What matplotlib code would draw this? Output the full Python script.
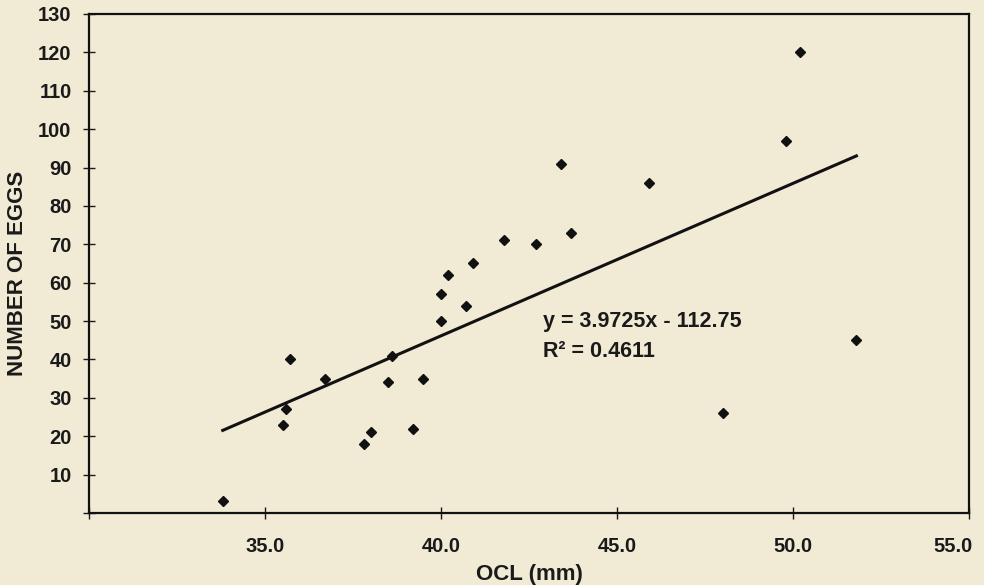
import matplotlib
matplotlib.use("Agg")
import matplotlib.pyplot as plt
import matplotlib.transforms as mtransforms
import numpy as np

# Data
ocl_mm = [33.8, 35.5, 35.6, 35.7, 36.7, 37.8, 38.0, 38.5, 38.6, 39.2, 39.5,
          40.0, 40.0, 40.7, 40.2, 40.9, 41.8, 42.7, 43.7, 43.4, 45.9,
          50.2, 49.8, 48.0, 51.8]
num_eggs = [3, 23, 27, 40, 35, 18, 21, 34, 41, 22, 35,
            50, 57, 54, 62, 65, 71, 70, 73, 91, 86,
            120, 97, 26, 45]
slope = 3.9725
intercept = -112.75
r2 = 0.4611

x_ticks = [30, 35, 40, 45, 50, 55]
x_labels = ["", "35.0", "40.0", "45.0", "50.0", "55.0"]
y_ticks = list(range(0, 131, 10))
y_labels = [""] + [str(v) for v in range(10, 131, 10)]

bg = "#F1EBD5"
ink = '#1a1a1a'
plt.rcParams['font.family'] = ['Liberation Sans', 'DejaVu Sans']
plt.rcParams['font.weight'] = 'bold'

fig = plt.figure(figsize=(9.84, 5.85), dpi=100, facecolor=bg)
ax = fig.add_axes([0.0904, 0.1231, 0.8944, 0.8530])
ax.set_facecolor(bg)

ax.plot(ocl_mm, num_eggs, linestyle='none', marker='D', markersize=5.2,
        color='#111111', zorder=3)

xs = np.array([min(ocl_mm), max(ocl_mm)])
ax.plot(xs, slope * xs + intercept, color='#111111', linewidth=2.2, zorder=2)

ax.text(42.9, 48.5, "y = 3.9725x - 112.75", fontsize=15.5, fontweight='bold',
        ha='left', va='baseline', color=ink)
ax.text(42.9, 40.6, "R\u00b2 = 0.4611", fontsize=15.5, fontweight='bold',
        ha='left', va='baseline', color=ink)

ax.set_xlim(30, 55)
ax.set_ylim(0, 130)
ax.set_xticks(x_ticks)
ax.set_xticklabels(x_labels)
ax.set_yticks(y_ticks)
ax.set_yticklabels(y_labels)

ax.tick_params(axis='x', direction='inout', length=9, width=1, pad=13,
               labelsize=14.5, colors=ink)
ax.tick_params(axis='y', direction='inout', length=9, width=1, pad=8,
               labelsize=14.5, colors=ink)
for lbl in ax.get_xticklabels() + ax.get_yticklabels():
    lbl.set_fontweight('bold')

# last x label sits flush against the right edge in the reference
last = ax.get_xticklabels()[-1]
last.set_ha('right')
last.set_transform(last.get_transform() +
                   mtransforms.ScaledTranslation(4 / 100, 0, fig.dpi_scale_trans))

for s in ax.spines.values():
    s.set_linewidth(1.6)
    s.set_color('#111111')

ax.set_xlabel("OCL (mm)", fontsize=16, fontweight='bold', color=ink)
ax.set_ylabel("NUMBER OF EGGS", fontsize=16, fontweight='bold', color=ink)
ax.xaxis.label.set_va('baseline')
ax.xaxis.set_label_coords(0.501, -0.1343)
ax.yaxis.label.set_va('center')
ax.yaxis.set_label_coords(-0.0807, 0.481)

fig.savefig("out.png", dpi=100, facecolor=bg)
